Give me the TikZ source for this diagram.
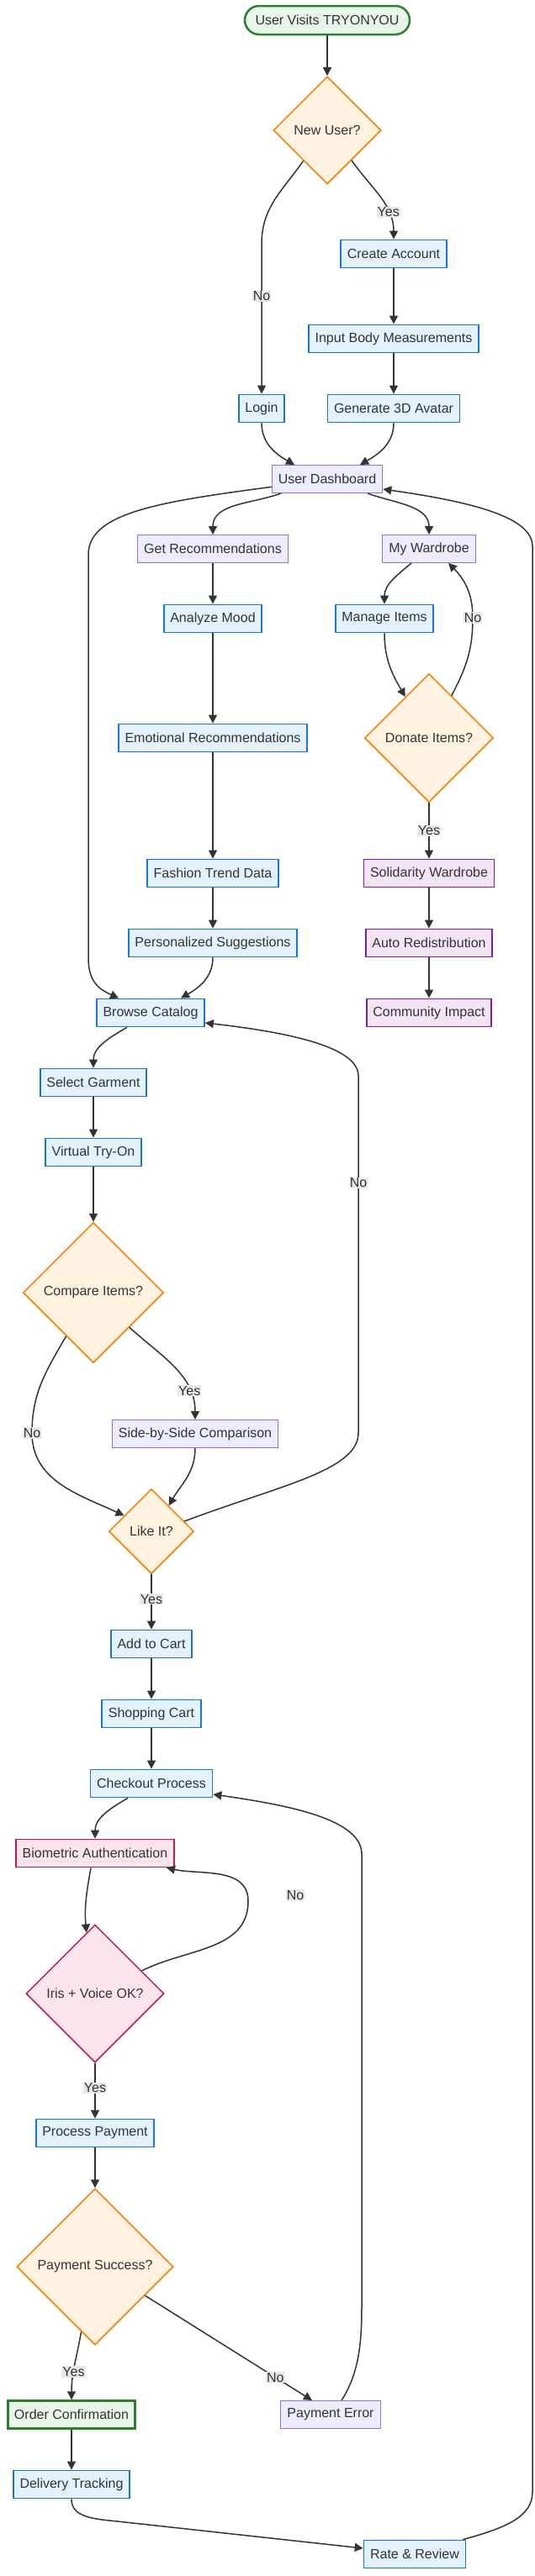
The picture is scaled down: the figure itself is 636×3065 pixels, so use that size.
\documentclass[tikz,border=0pt]{standalone}
\usepackage{fontspec}
\setmainfont{Liberation Sans}
\usepackage{tikz}
\usetikzlibrary{arrows.meta,shapes.geometric}
\usepackage{xcolor}
\definecolor{tytext}{HTML}{333333}
\definecolor{tyedge}{HTML}{333333}
\definecolor{tylabel}{HTML}{E8E8E8}
\definecolor{tygreen}{HTML}{2E7D32}
\definecolor{tygreenlight}{HTML}{E8F5E9}
\definecolor{tyblue}{HTML}{1976D2}
\definecolor{tybluelight}{HTML}{E3F2FD}
\definecolor{tyviolet}{HTML}{9370DB}
\definecolor{tyvioletlight}{HTML}{ECECFF}
\definecolor{typurple}{HTML}{7B1FA2}
\definecolor{typurplelight}{HTML}{F3E5F5}
\definecolor{typink}{HTML}{C2185B}
\definecolor{typinklight}{HTML}{FCE4EC}
\definecolor{tyorange}{HTML}{F57C00}
\definecolor{tyorangelight}{HTML}{FFF3E0}

\begin{document}
\begin{tikzpicture}[
  x=1pt, y=1pt,
  every node/.style={font=\fontsize{16pt}{19pt}\selectfont, text=tytext},
  box/.style={rectangle, minimum height=33pt, inner xsep=7.5pt, inner ysep=0pt},
  terminal/.style={box, draw=tygreen, fill=tygreenlight, line width=2.5pt},
  process/.style={box, draw=tyblue, fill=tybluelight, line width=1.8pt},
  plain/.style={box, draw=tyviolet, fill=tyvioletlight, line width=1pt},
  solidarity/.style={box, draw=typurple, fill=typurplelight, line width=1.8pt},
  secure/.style={box, draw=typink, fill=typinklight, line width=1.8pt},
  decision/.style={diamond, aspect=1, inner sep=0pt, draw=tyorange, fill=tyorangelight, line width=1.5pt},
  arrow/.style={-{Triangle[length=10pt,width=10pt]}, line width=1.5pt, draw=tyedge},
  elabel/.style={fill=tylabel, inner sep=1pt}
]
\fill[white] (0,0) rectangle (636,-3065);
\path[use as bounding box] (0,0) rectangle (636,-3065);

% onboarding
\node[terminal, rounded corners=17pt, minimum width=196pt, minimum height=34pt] (st) at (389,-24) {User Visits TRYONYOU};
\node[decision, minimum size=128pt] (nu) at (389,-155) {New User?};
\node[process] (ca) at (468,-302) {Create Account};
\node[process] (ib) at (468,-403) {Input Body Measurements};
\node[process] (lg) at (311,-486) {Login};
\node[process] (av) at (468,-486) {Generate 3D Avatar};
\node[plain] (ud) at (389,-570) {User Dashboard};

% recommendations and wardrobe
\node[plain] (gr) at (253,-653) {Get Recommendations};
\node[plain] (mw) at (510,-653) {My Wardrobe};
\node[process] (am) at (253,-736) {Analyze Mood};
\node[process] (mi) at (457,-736) {Manage Items};
\node[process] (er) at (253,-878) {Emotional Recommendations};
\node[decision, minimum size=153pt] (di) at (510,-878) {Donate Items?};
\node[process] (ft) at (253,-1039) {Fashion Trend Data};
\node[solidarity] (sw) at (510,-1039) {Solidarity Wardrobe};
\node[process] (ps) at (253,-1122) {Personalized Suggestions};
\node[solidarity] (ar) at (510,-1122) {Auto Redistribution};
\node[process] (bc) at (179,-1205) {Browse Catalog};
\node[solidarity] (ci) at (510,-1205) {Community Impact};

% try-on
\node[process] (sg) at (111,-1288) {Select Garment};
\node[process] (vt) at (111,-1371) {Virtual Try-On};
\node[decision, minimum size=167pt] (cmp) at (111,-1538) {Compare Items?};
\node[plain] (sbs) at (232,-1706) {Side-by-Side Comparison};
\node[decision, minimum size=101pt] (lk) at (180,-1822) {Like It?};

% checkout
\node[process] (atc) at (180,-1956) {Add to Cart};
\node[process] (shc) at (180,-2039) {Shopping Cart};
\node[process] (cp) at (180,-2122) {Checkout Process};
\node[secure] (ba) at (113,-2205) {Biometric Authentication};
\node[decision, draw=typink, fill=typinklight, minimum size=164pt] (iv) at (113,-2372) {Iris + Voice OK?};
\node[elabel] (ivno) at (351,-2255) {No};
\node[process] (pp) at (113,-2538) {Process Payment};
\node[decision, minimum size=186pt] (pys) at (113,-2697) {Payment Success?};
\node[terminal] (oc) at (85,-2873) {Order Confirmation};
\node[plain] (pe) at (393,-2873) {Payment Error};
\node[process] (dt) at (85,-2956) {Delivery Tracking};
\node[process] (rr) at (493,-3039) {Rate \& Review};

% connectors
\draw[arrow] (st) -- (nu);
\draw[arrow] (nu.232) to[out=-125,in=90] (311,-290) -- node[elabel, pos=0.35]{No} (lg.north);
\draw[arrow] (nu.309) to[out=-55,in=90] node[elabel, pos=0.7]{Yes} (ca.north);
\draw[arrow] (ca) -- (ib);
\draw[arrow] (ib) -- (av);
\draw[arrow] (lg.south) to[out=-90,in=150] ([xshift=-39pt]ud.north);
\draw[arrow] (av.south) to[out=-90,in=30] ([xshift=39pt]ud.north);
\draw[arrow] (ud.188) .. controls (190,-597) and (105,-610) .. (105,-660) -- (105,-1140)
  .. controls (105,-1170) and (120,-1178) .. ([xshift=-38pt]bc.north);
\draw[arrow] ([xshift=-55pt]ud.south) to[out=-160,in=90] (gr.north);
\draw[arrow] ([xshift=48pt]ud.south) to[out=-20,in=90] (mw.north);
\draw[arrow] (gr) -- (am);
\draw[arrow] (am) -- (er);
\draw[arrow] (er) -- (ft);
\draw[arrow] (ft) -- (ps);
\draw[arrow] (ps.south) to[out=-90,in=30] ([xshift=36pt]bc.north);
\draw[arrow] ([xshift=-21pt]mw.south) to[out=-140,in=90] (mi.north);
\draw[arrow] (mi.south) to[out=-90,in=120] (di.120);
\draw[arrow] (di.62) to[out=62,in=-90] (562,-735) node[elabel]{No} to[out=90,in=-45] ([xshift=23pt]mw.south);
\draw[arrow] (di) -- node[elabel]{Yes} (sw);
\draw[arrow] (sw) -- (ar);
\draw[arrow] (ar) -- (ci);
\draw[arrow] ([xshift=-28pt]bc.south) to[out=-150,in=90] (sg.north);
\draw[arrow] (sg) -- (vt);
\draw[arrow] (vt) -- (cmp);
\draw[arrow] (cmp.316) to[out=-42,in=90] node[elabel, pos=0.75]{Yes} (sbs.north);
\draw[arrow] (cmp.238) to[out=-120,in=90] (38,-1705) node[elabel]{No} to[out=-90,in=155] (lk.150);
\draw[arrow] (sbs.south) to[out=-90,in=60] (lk.56);
\draw[arrow] (lk.17) .. controls (330,-1768) and (426,-1750) .. (426,-1705) -- node[elabel, pos=0.7]{No} (426,-1280)
  .. controls (426,-1245) and (340,-1228) .. ([yshift=-12pt]bc.east);
\draw[arrow] (lk) -- node[elabel, pos=0.45]{Yes} (atc);
\draw[arrow] (atc) -- (shc);
\draw[arrow] (shc) -- (cp);
\draw[arrow] ([xshift=-28pt]cp.south) to[out=-150,in=90] (ba.north);
\draw[arrow] ([xshift=-5pt]ba.south) to[out=-100,in=95] (iv.98);
\draw[arrow] (iv.26) to[out=27,in=-90] (295,-2262) to[out=90,in=-12] ([xshift=85pt]ba.south);
\draw[arrow] (iv) -- node[elabel, pos=0.45]{Yes} (pp);
\draw[arrow] (pp) -- (pys);
\draw[arrow] (pys.258) to[out=-100,in=90] node[elabel, pos=0.6]{Yes} (oc.north);
\draw[arrow] (pys.330) -- node[elabel, pos=0.78]{No} ([xshift=-22pt]pe.north);
\draw[arrow] ([xshift=13pt]pe.north) .. controls (426,-2825) and (430,-2790) .. (430,-2745) -- (430,-2206)
  .. controls (430,-2165) and (345,-2148) .. ([yshift=-13pt]cp.east);
\draw[arrow] (oc) -- (dt);
\draw[arrow] (dt.south) .. controls (85,-2995) and (110,-2997) .. (140,-3000) -- ([yshift=7pt]rr.west);
\draw[arrow] ([xshift=-4pt]rr.north east) .. controls (600,-3008) and (633,-2995) .. (633,-2965) -- (633,-650)
  .. controls (633,-615) and (560,-597) .. ([yshift=-12pt]ud.east);
\end{tikzpicture}
\end{document}
